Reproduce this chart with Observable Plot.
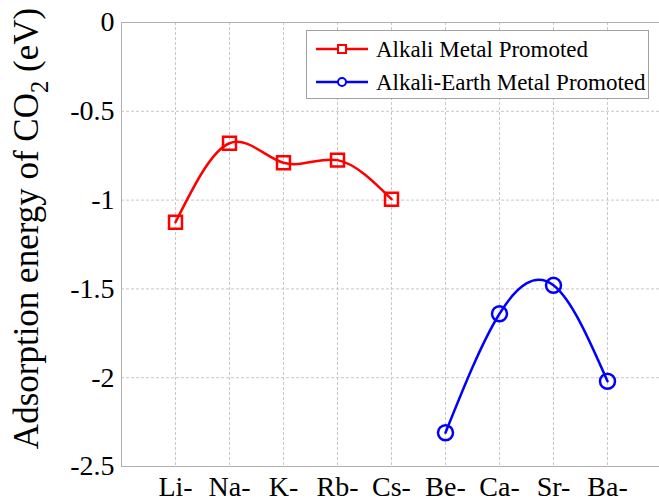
<!DOCTYPE html>
<html><head><meta charset="utf-8">
<script src="https://cdn.jsdelivr.net/npm/d3@7"></script>
<script src="https://cdn.jsdelivr.net/npm/@observablehq/plot@0.6"></script>
<style>html,body{margin:0;padding:0;overflow:hidden;background:#fff}</style>
</head><body><div id="chart"></div>
<script>
const categories = ["Li-","Na-","K-","Rb-","Cs-","Be-","Ca-","Sr-","Ba-"];
const alkaliMetals = ["Li-","Na-","K-","Rb-","Cs-"];
const alkaliValues = [-1.125,-0.68,-0.79,-0.775,-0.995];
const earthMetals = ["Be-","Ca-","Sr-","Ba-"];
const earthValues = [-2.31,-1.64,-1.48,-2.02];
const yTicks = [0,-0.5,-1,-1.5,-2,-2.5];
const seriesNames = ["Alkali Metal Promoted","Alkali-Earth Metal Promoted"];
const seriesColors = ["#ff0000","#0000ff"];
const yLabelParts = ["Adsorption energy of CO","2"," (eV)"];

const alkali = alkaliMetals.map((m,i)=>({m, v: alkaliValues[i]}));
const earth = earthMetals.map((m,i)=>({m, v: earthValues[i]}));
const yLabel = yLabelParts.join("");

const gridStyle = {stroke:"#c8c8c8", strokeOpacity:1, strokeDasharray:"3,2", strokeWidth:1};

const svg = Plot.plot({
  width: 659, height: 501,
  marginLeft: 121, marginRight: -2, marginTop: 22, marginBottom: 35,
  style: {fontFamily: "Liberation Serif", fontSize: "28px", color: "#000", background: "#fff", overflow: "hidden"},
  x: {type: "point", domain: categories, padding: 1},
  y: {domain: [-2.5, 0]},
  marks: [
    Plot.gridX(categories, gridStyle),
    Plot.gridY(yTicks, gridStyle),
    Plot.frame({stroke:"#b0b0b0"}),
    Plot.axisX(categories, {tickSize:0, tickPadding:10, label:null}),
    Plot.axisY(yTicks, {tickSize:0, tickPadding:7, tickFormat: d => String(d), label: yLabel, labelAnchor:"center", labelOffset:108, labelArrow:false}),
    Plot.line(alkali, {x:"m", y:"v", stroke: seriesColors[0], strokeWidth:2.5, curve:"natural"}),
    Plot.dot(alkali, {x:"m", y:"v", symbol:"square", r:7.3, stroke: seriesColors[0], strokeWidth:2.5, fill:"none"}),
    Plot.line(earth, {x:"m", y:"v", stroke: seriesColors[1], strokeWidth:2.5, curve:"natural"}),
    Plot.dot(earth, {x:"m", y:"v", symbol:"circle", r:7.5, stroke: seriesColors[1], strokeWidth:2.5, fill:"none"})
  ]
});

// larger axis label with subscript
d3.select(svg).selectAll("text").each(function() {
  if (this.textContent === yLabel) {
    const t = d3.select(this);
    t.attr("font-size","35px");
    t.text(null);
    t.append("tspan").attr("dx","16").text(yLabelParts[0]);
    t.append("tspan").attr("font-size","0.7em").attr("dy","0.4em").text(yLabelParts[1]);
    t.append("tspan").attr("dy","-0.28em").text(yLabelParts[2]);
  }
});

// legend
const lg = d3.select(svg).append("g").attr("font-family","Liberation Serif").attr("font-size","23px").attr("text-anchor","start");
lg.append("rect").attr("x",306.5).attr("y",30.5).attr("width",342).attr("height",68)
  .attr("fill","#fff").attr("stroke","#a0a0a0");
seriesNames.forEach((name,i) => {
  const cy = 49 + 33*i;
  lg.append("line").attr("x1",316).attr("x2",368).attr("y1",cy).attr("y2",cy)
    .attr("stroke",seriesColors[i]).attr("stroke-width",2.5);
  if (i === 0) {
    lg.append("rect").attr("x",338).attr("y",cy-4).attr("width",8).attr("height",8)
      .attr("fill","#fff").attr("stroke",seriesColors[i]).attr("stroke-width",2);
  } else {
    lg.append("circle").attr("cx",342).attr("cy",cy).attr("r",4)
      .attr("fill","#fff").attr("stroke",seriesColors[i]).attr("stroke-width",2);
  }
  lg.append("text").attr("x",376).attr("y",cy).attr("dy","0.35em").attr("fill","#000").attr("text-anchor","start").text(name);
});

document.getElementById("chart").appendChild(svg);
</script>
</body></html>
